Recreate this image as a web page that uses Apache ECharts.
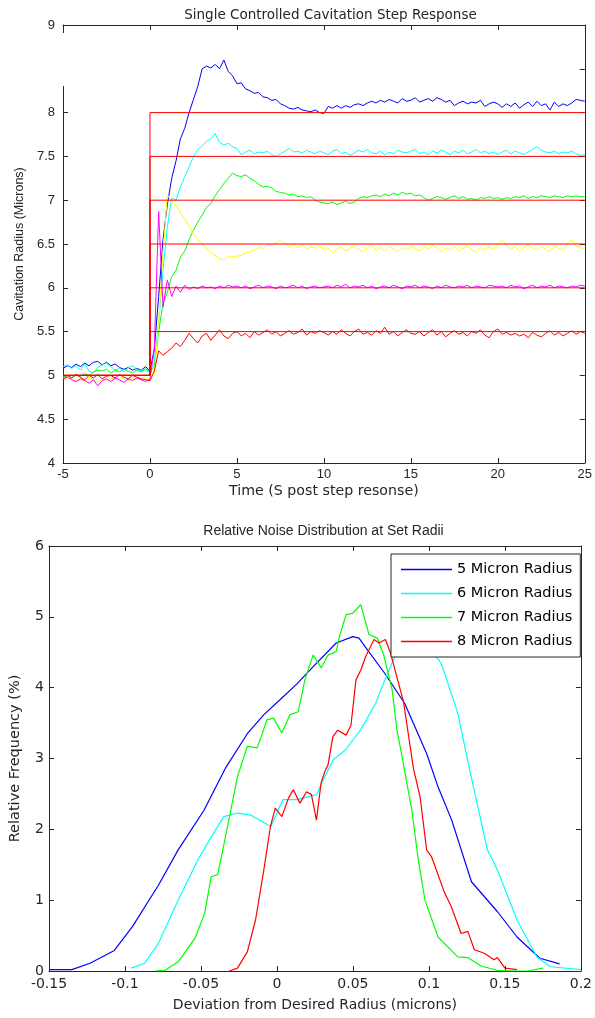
<!DOCTYPE html>
<html>
<head>
<meta charset="utf-8">
<script src="https://cdn.jsdelivr.net/npm/echarts@6/dist/echarts.min.js"></script>
<style>
html,body{margin:0;padding:0;background:#fff;}
#chart{width:595px;height:1018px;}
</style>
</head>
<body>
<div id="chart"></div>
<script>
// ---------- Top panel: step response ----------
const topTitle = 'Single Controlled Cavitation Step Response';
const topXLabel = 'Time (S post step resonse)';
const topYLabel = 'Cavitation Radius (Microns)';
const sampleStart = -5, sampleStep = 0.25, sampleCount = 121;
const time = Array.from({length: sampleCount}, (_, i) => sampleStart + i * sampleStep);
const baseRadius = 5;
const stepTime = 0;
const targets = [5.5, 6, 6.5, 7, 7.5, 8];

const resp8 = [
  5.08,5.11,5.09,5.13,5.10,5.14,5.11,5.15,5.16,5.12,5.15,5.11,5.13,5.09,5.07,5.09,5.06,5.08,5.06,5.10,5.05,
  5.30,5.90,6.55,6.95,7.25,7.45,7.70,7.82,8.00,8.15,8.30,8.50,8.53,8.51,8.55,8.50,8.60,8.47,8.42,8.33,
  8.34,8.27,8.25,8.22,8.23,8.18,8.17,8.14,8.15,8.10,8.08,8.05,8.04,8.06,8.03,8.02,8.01,8.03,8.00,7.99,
  8.07,8.05,8.08,8.05,8.08,8.06,8.09,8.10,8.08,8.11,8.13,8.11,8.14,8.12,8.15,8.13,8.11,8.16,8.13,8.14,
  8.17,8.12,8.14,8.16,8.13,8.17,8.15,8.12,8.14,8.08,8.11,8.13,8.10,8.12,8.11,8.14,8.07,8.10,8.12,8.10,
  8.06,8.10,8.07,8.11,8.05,8.09,8.12,8.07,8.13,8.08,8.10,8.03,8.12,8.07,8.10,8.08,8.11,8.15,8.14,8.13
];
const resp75 = [
  5.10,5.12,5.08,5.11,5.06,5.13,5.05,5.03,5.09,5.12,5.14,5.10,5.06,5.08,5.04,5.09,5.11,5.07,5.05,5.08,5.04,
  5.15,5.60,6.20,6.70,7.02,7.00,7.15,7.27,7.38,7.50,7.58,7.62,7.67,7.70,7.76,7.66,7.63,7.65,7.61,7.59,
  7.52,7.55,7.57,7.53,7.55,7.54,7.56,7.52,7.50,7.53,7.56,7.59,7.55,7.56,7.54,7.57,7.55,7.53,7.56,7.54,
  7.52,7.56,7.58,7.53,7.55,7.51,7.54,7.57,7.55,7.58,7.54,7.53,7.56,7.52,7.55,7.53,7.57,7.55,7.54,7.56,
  7.58,7.53,7.55,7.52,7.56,7.54,7.57,7.55,7.52,7.56,7.54,7.57,7.53,7.55,7.58,7.54,7.56,7.53,7.55,7.52,
  7.55,7.57,7.53,7.56,7.54,7.52,7.55,7.58,7.61,7.57,7.55,7.54,7.56,7.53,7.55,7.54,7.56,7.53,7.51,7.52
];
const resp7 = [
  4.98,5.00,4.97,5.01,4.99,5.02,5.00,5.04,5.06,5.05,5.07,5.03,5.06,5.04,5.07,5.05,5.03,5.06,5.04,5.07,5.03,
  5.10,5.50,5.82,5.95,6.13,6.20,6.35,6.42,6.55,6.66,6.75,6.83,6.92,6.96,7.05,7.12,7.19,7.25,7.31,7.28,
  7.27,7.29,7.25,7.22,7.18,7.15,7.16,7.14,7.10,7.09,7.08,7.06,7.07,7.04,7.05,7.03,7.04,7.00,6.98,6.97,
  6.96,6.98,6.95,6.97,6.99,6.96,6.98,7.02,7.04,7.03,7.05,7.06,7.04,7.07,7.05,7.08,7.06,7.09,7.07,7.08,
  7.05,7.06,7.03,7.00,7.02,7.04,7.03,7.01,7.03,7.05,7.02,7.04,7.01,7.02,7.00,7.03,7.02,7.04,7.02,7.03,
  7.01,7.03,7.02,7.04,7.03,7.05,7.02,7.04,7.03,7.05,7.04,7.03,7.05,7.04,7.03,7.05,7.04,7.05,7.04,7.04
];
const resp65 = [
  4.97,4.95,4.98,4.94,4.96,4.93,4.97,4.95,4.92,4.96,4.94,4.97,4.95,4.98,4.96,4.94,4.97,4.95,4.98,4.96,4.95,
  5.00,5.60,6.40,7.06,6.98,6.94,6.85,6.79,6.70,6.62,6.55,6.51,6.45,6.40,6.37,6.33,6.32,6.36,6.35,6.36,
  6.37,6.40,6.41,6.43,6.46,6.45,6.49,6.48,6.51,6.55,6.50,6.47,6.50,6.46,6.49,6.44,6.47,6.45,6.48,6.43,
  6.46,6.40,6.44,6.47,6.42,6.45,6.48,6.44,6.41,6.46,6.49,6.43,6.46,6.42,6.47,6.44,6.41,6.46,6.43,6.48,
  6.45,6.42,6.47,6.44,6.49,6.45,6.41,6.46,6.43,6.47,6.42,6.45,6.48,6.44,6.40,6.46,6.43,6.47,6.44,6.49,
  6.55,6.48,6.44,6.47,6.42,6.46,6.49,6.45,6.43,6.47,6.44,6.41,6.48,6.45,6.43,6.50,6.55,6.48,6.46,6.44
];
const resp6 = [
  4.96,4.98,4.95,4.93,4.96,4.94,4.91,4.95,4.88,4.94,4.96,4.93,4.97,4.95,4.92,4.96,4.94,4.97,4.95,4.93,4.96,
  5.30,6.87,5.78,6.09,5.90,6.02,5.95,6.03,5.98,6.01,5.99,6.02,6.00,6.01,5.99,6.02,6.00,6.03,6.01,6.02,
  6.00,6.02,5.99,6.01,6.03,6.00,6.02,6.01,5.99,6.02,6.00,6.01,6.03,6.00,6.02,5.99,6.01,6.02,6.00,6.01,
  6.02,6.00,6.03,6.01,6.04,6.00,6.02,6.01,6.03,6.00,6.02,5.99,6.01,6.02,6.00,6.03,6.01,5.99,6.02,6.01,
  6.03,6.00,6.02,6.01,5.99,6.02,6.00,6.03,6.01,6.00,6.02,6.01,6.03,6.00,6.02,6.01,6.00,6.03,6.02,6.01,
  6.02,6.00,6.03,6.01,6.02,5.99,6.01,6.03,6.00,6.02,6.01,6.03,6.00,6.02,6.01,6.00,6.02,6.01,6.03,6.02
];
const resp55 = [
  4.95,5.00,4.97,5.01,4.98,4.95,5.00,4.97,5.01,4.96,4.99,5.00,4.97,5.01,4.98,4.96,5.00,4.98,4.96,4.95,4.94,
  5.05,5.28,5.23,5.27,5.31,5.37,5.33,5.40,5.48,5.42,5.37,5.45,5.48,5.40,5.46,5.52,5.45,5.42,5.48,5.50,
  5.45,5.48,5.43,5.50,5.46,5.49,5.52,5.47,5.50,5.45,5.48,5.51,5.47,5.49,5.53,5.46,5.50,5.48,5.51,5.49,
  5.46,5.50,5.47,5.52,5.48,5.45,5.50,5.53,5.47,5.49,5.46,5.51,5.48,5.55,5.47,5.50,5.45,5.49,5.52,5.48,
  5.47,5.50,5.45,5.49,5.52,5.46,5.50,5.44,5.48,5.51,5.47,5.49,5.45,5.50,5.48,5.52,5.46,5.43,5.50,5.53,
  5.47,5.49,5.46,5.48,5.45,5.47,5.43,5.49,5.46,5.44,5.48,5.51,5.46,5.49,5.45,5.48,5.51,5.47,5.50,5.48
];
const respSeries = [
  {name: 'Step 8', data: resp8, color: '#0000ff'},
  {name: 'Step 7.5', data: resp75, color: '#00ffff'},
  {name: 'Step 7', data: resp7, color: '#00ff00'},
  {name: 'Step 6.5', data: resp65, color: '#ffff00'},
  {name: 'Step 6', data: resp6, color: '#ff00ff'},
  {name: 'Step 5.5', data: resp55, color: '#ff0000'}
];

// ---------- Bottom panel: noise distribution ----------
const botTitle = 'Relative Noise Distribution at Set Radii';
const botXLabel = 'Deviation from Desired Radius (microns)';
const botYLabel = 'Relative Frequency (%)';
const legendNames = ['5 Micron Radius', '6 Micron Radius', '7 Micron Radius', '8 Micron Radius'];

const dev5 = [-0.15,-0.135,-0.123,-0.107,-0.095,-0.078,-0.065,-0.048,-0.034,-0.0195,-0.0086,0.002,0.013,0.024,0.039,0.05,0.054,0.058,0.071,0.084,0.0985,0.106,0.115,0.128,0.145,0.158,0.173,0.186];
const freq5 = [0.02,0.02,0.11,0.29,0.63,1.21,1.71,2.27,2.86,3.35,3.62,3.83,4.05,4.3,4.63,4.72,4.7,4.58,4.2,3.78,3.07,2.6,2.13,1.26,0.84,0.48,0.18,0.1];

const dev6 = [-0.096,-0.087,-0.078,-0.065,-0.052,-0.043,-0.035,-0.026,-0.017,-0.004,0.004,0.013,0.026,0.030,0.037,0.045,0.055,0.065,0.071,0.078,0.085,0.092,0.1,0.108,0.119,0.1266,0.1385,0.145,0.158,0.171,0.18,0.2];
const freq6 = [0.04,0.11,0.39,1.0,1.57,1.9,2.18,2.23,2.2,2.04,2.42,2.42,2.49,2.68,2.98,3.12,3.4,3.78,4.11,4.46,4.68,4.75,4.55,4.35,3.64,2.86,1.71,1.43,0.72,0.2,0.06,0.02];

const dev7 = [-0.08,-0.0736,-0.065,-0.054,-0.0476,-0.0433,-0.039,-0.0325,-0.026,-0.0195,-0.013,-0.0065,-0.0022,0.0032,0.0086,0.014,0.0184,0.0238,0.0292,0.0336,0.039,0.0411,0.0455,0.0498,0.0552,0.0606,0.066,0.0703,0.0758,0.079,0.0823,0.0855,0.0888,0.093,0.0974,0.106,0.119,0.1256,0.1342,0.145,0.155,0.165,0.175];
const freq7 = [0,0.01,0.13,0.46,0.81,1.33,1.36,2.04,2.74,3.17,3.15,3.55,3.57,3.36,3.62,3.66,4.11,4.46,4.28,4.46,4.51,4.72,5.03,5.05,5.17,4.75,4.7,4.46,3.97,3.4,3.03,2.65,2.27,1.57,1.0,0.48,0.2,0.19,0.07,0.01,0.0,0.0,0.04];

const dev8 = [-0.0314,-0.026,-0.0195,-0.0141,-0.0086,-0.0043,-0.0011,0.0032,0.0076,0.0108,0.0151,0.0195,0.0227,0.026,0.029,0.0314,0.0336,0.0368,0.04,0.0455,0.0487,0.052,0.0552,0.0584,0.0639,0.0671,0.0714,0.0747,0.0833,0.0898,0.0942,0.0985,0.1018,0.1104,0.1147,0.1212,0.1256,0.1299,0.1364,0.1429,0.1451,0.15,0.158];
const freq8 = [0,0.04,0.27,0.72,1.43,2.04,2.3,2.18,2.44,2.56,2.37,2.53,2.49,2.13,2.65,2.81,2.91,3.31,3.4,3.33,3.47,4.11,4.25,4.44,4.68,4.63,4.68,4.49,3.8,2.86,2.46,1.71,1.61,1.1,0.91,0.53,0.56,0.3,0.25,0.16,0.19,0.04,0.02];

const distSeries = [
  {name: legendNames[0], x: dev5, y: freq5, color: '#0000ff'},
  {name: legendNames[1], x: dev6, y: freq6, color: '#00ffff'},
  {name: legendNames[2], x: dev7, y: freq7, color: '#00ff00'},
  {name: legendNames[3], x: dev8, y: freq8, color: '#ff0000'}
];

// ---------- build option ----------
const axisColor = '#262626';
const tickFont = 'Liberation Sans, Arial, sans-serif';
const wideFont = 'DejaVu Sans, sans-serif';

function frameAxis(extra) {
  return Object.assign({
    type: 'value',
    axisLine: {show: true, onZero: false, lineStyle: {color: axisColor, width: 1}},
    axisTick: {show: true, inside: true, length: 5, lineStyle: {color: axisColor}},
    splitLine: {show: false},
    axisLabel: {show: false}
  }, extra);
}

const series = [];
respSeries.forEach(s => {
  series.push({
    type: 'line', name: s.name, xAxisIndex: 0, yAxisIndex: 0,
    data: time.map((t, i) => [t, s.data[i]]),
    symbol: 'none', lineStyle: {color: s.color, width: 1}, itemStyle: {color: s.color},
    animation: false
  });
});
targets.forEach(k => {
  series.push({
    type: 'line', name: 'Ref ' + k, xAxisIndex: 0, yAxisIndex: 0,
    data: [[sampleStart, baseRadius], [stepTime, baseRadius], [stepTime, k], [time[time.length - 1], k]],
    symbol: 'none', lineStyle: {color: '#ff0000', width: 1}, itemStyle: {color: '#ff0000'},
    animation: false
  });
});
distSeries.forEach(s => {
  series.push({
    type: 'line', name: s.name, xAxisIndex: 2, yAxisIndex: 2,
    data: s.x.map((x, i) => [x, s.y[i]]),
    symbol: 'none', lineStyle: {color: s.color, width: 1.2}, itemStyle: {color: s.color},
    animation: false
  });
});

const option = {
  backgroundColor: '#ffffff',
  animation: false,
  title: [
    {text: topTitle, left: 325.5, top: 3, textAlign: 'center',
     textStyle: {fontFamily: wideFont, fontSize: 13.5, fontWeight: 'normal', color: axisColor}},
    {text: botTitle, left: 318.5, top: 519, textAlign: 'center',
     textStyle: {fontFamily: tickFont, fontSize: 14, fontWeight: 'normal', color: axisColor}}
  ],
  grid: [
    {left: 63, top: 25, width: 525, height: 438},
    {left: 49, top: 546, width: 539, height: 425}
  ],
  xAxis: [
    frameAxis({gridIndex: 0, position: 'bottom', min: -5, max: 25, interval: 5,
      axisLabel: {show: true, color: axisColor, fontFamily: tickFont, fontSize: 13, margin: 5},
      name: topXLabel, nameLocation: 'middle', nameGap: 21,
      nameTextStyle: {fontFamily: wideFont, fontSize: 14.2, color: axisColor}}),
    frameAxis({gridIndex: 0, position: 'top', min: -5, max: 25, interval: 5}),
    frameAxis({gridIndex: 1, position: 'bottom', min: -0.15, max: 0.2, interval: 0.05,
      axisLabel: {show: true, color: axisColor, fontFamily: wideFont, fontSize: 14, margin: 6,
        formatter: v => String(Math.round(v * 100) / 100)},
      name: botXLabel, nameLocation: 'middle', nameGap: 27,
      nameTextStyle: {fontFamily: wideFont, fontSize: 14, color: axisColor}}),
    frameAxis({gridIndex: 1, position: 'top', min: -0.15, max: 0.2, interval: 0.05})
  ],
  yAxis: [
    frameAxis({gridIndex: 0, position: 'left', min: 4, max: 9, interval: 0.5,
      axisLabel: {show: true, color: axisColor, fontFamily: tickFont, fontSize: 13, margin: 8},
      name: topYLabel, nameLocation: 'middle', nameGap: 37,
      nameTextStyle: {fontFamily: tickFont, fontSize: 12.5, color: axisColor}}),
    frameAxis({gridIndex: 0, position: 'right', min: 4, max: 9, interval: 0.5}),
    frameAxis({gridIndex: 1, position: 'left', min: 0, max: 6, interval: 1,
      axisLabel: {show: true, color: axisColor, fontFamily: wideFont, fontSize: 14, margin: 5},
      name: botYLabel, nameLocation: 'middle', nameGap: 26,
      nameTextStyle: {fontFamily: wideFont, fontSize: 14.5, color: axisColor}}),
    frameAxis({gridIndex: 1, position: 'right', min: 0, max: 6, interval: 1})
  ],
  legend: {
    data: legendNames,
    orient: 'vertical',
    left: 391, top: 554,
    padding: [8, 8, 8, 10],
    icon: 'rect',
    itemWidth: 51, itemHeight: 1.5, itemGap: 9,
    backgroundColor: '#ffffff',
    borderColor: axisColor, borderWidth: 1,
    textStyle: {fontFamily: wideFont, fontSize: 14.5, lineHeight: 14, color: '#000'},
    z: 20
  },
  graphic: [
    {type: 'rect', shape: {x: 20, y: 33, width: 50, height: 53},
     style: {fill: '#ffffff'}, z: 100}
  ],
  series: series
};

const chart = echarts.init(document.getElementById('chart'), null, {renderer: 'canvas'});
chart.setOption(option);
</script>
</body>
</html>
